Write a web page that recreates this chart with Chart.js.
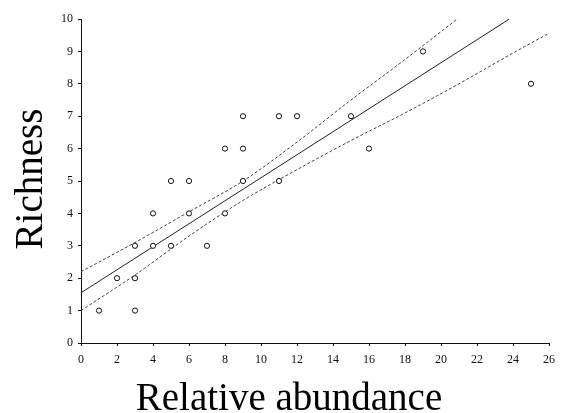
<!DOCTYPE html>
<html>
<head>
<meta charset="utf-8">
<script src="https://cdn.jsdelivr.net/npm/chart.js@4/dist/chart.umd.min.js"></script>
<style>
  html, body { margin: 0; padding: 0; background: #fff; }
  #wrap { width: 562px; height: 413px; }
</style>
</head>
<body>
<div id="wrap"><canvas id="richChart" width="562" height="413"></canvas></div>
<script>
// observed samples: relative abundance vs richness
const abundance = [1, 2, 3, 3, 3, 4, 4, 5, 5, 6, 6, 7, 8, 8, 9, 9, 9, 11, 11, 12, 15, 16, 19, 25];
const richness  = [1, 2, 1, 2, 3, 3, 4, 3, 5, 4, 5, 3, 4, 6, 5, 6, 7, 5, 7, 7, 7, 6, 9, 8];

// fitted line
const fitX = [0, 23.8];
const fitY = [1.55, 10];

// confidence bands (dashed)
const upperX = [0, 3, 6, 9, 12, 15, 18, 20.9];
const upperY = [2.2, 3.1, 4.05, 5.0, 6.2, 7.5, 8.75, 10.0];
const lowerX = [0, 3, 6, 9, 12, 15, 18, 21, 24, 26];
const lowerY = [1.0, 2.1, 3.3, 4.4, 5.35, 6.25, 7.1, 8.0, 8.95, 9.56];

const xTicks = [0, 2, 4, 6, 8, 10, 12, 14, 16, 18, 20, 22, 24, 26];
const yTicks = [0, 1, 2, 3, 4, 5, 6, 7, 8, 9, 10];

const xTitle = "Relative abundance";
const yTitle = "Richness";

const toXY = (xs, ys) => xs.map((x, i) => ({ x: x, y: ys[i] }));

const serif = "'Liberation Serif', 'Times New Roman', serif";
const tickFont = { family: serif, size: 12 };

// axis titles sit off-centre in the original, so place them by hand
const axisTitles = {
    id: 'axisTitles',
    afterDraw(chart) {
        const c = chart.ctx;
        c.save();
        c.fillStyle = "#000";
        c.font = "39px " + serif;
        c.textBaseline = "alphabetic";
        c.textAlign = "center";
        c.fillText(xTitle, 289, 410);
        c.translate(42, 179);
        c.rotate(-Math.PI / 2);
        c.fillText(yTitle, 0, 0);
        c.restore();
    }
};

const ctx = document.getElementById("richChart").getContext("2d");
new Chart(ctx, {
    type: 'scatter',
    data: {
        datasets: [
            {
                label: "Samples",
                data: toXY(abundance, richness),
                pointStyle: 'circle',
                pointRadius: 2.6,
                pointBorderWidth: 1,
                pointBorderColor: "#111",
                pointBackgroundColor: "#fff",
                showLine: false
            },
            {
                label: "Fit",
                data: toXY(fitX, fitY),
                showLine: true,
                borderColor: "#222",
                borderWidth: 1,
                pointRadius: 0
            },
            {
                label: "Upper",
                data: toXY(upperX, upperY),
                showLine: true,
                borderColor: "#444",
                borderWidth: 1,
                borderDash: [3, 2],
                cubicInterpolationMode: 'monotone',
                pointRadius: 0
            },
            {
                label: "Lower",
                data: toXY(lowerX, lowerY),
                showLine: true,
                borderColor: "#444",
                borderWidth: 1,
                borderDash: [3, 2],
                cubicInterpolationMode: 'monotone',
                pointRadius: 0
            }
        ]
    },
    options: {
        responsive: false,
        animation: false,
        layout: { padding: { top: 19, right: 7, left: 0, bottom: 0 } },
        plugins: {
            legend: { display: false },
            tooltip: { enabled: false }
        },
        scales: {
            x: {
                type: 'linear',
                min: 0,
                max: 26,
                afterBuildTicks: (axis) => { axis.ticks = xTicks.map(v => ({ value: v })); },
                afterFit: (axis) => { axis.height = 70; },
                ticks: { font: tickFont, color: "#111", padding: 7, maxRotation: 0 },
                grid: { display: true, drawOnChartArea: false, drawTicks: true, tickLength: 3, color: "#111" },
                border: { display: true, color: "#111", width: 1 }
            },
            y: {
                type: 'linear',
                min: 0,
                max: 10,
                afterBuildTicks: (axis) => { axis.ticks = yTicks.map(v => ({ value: v })); },
                afterFit: (axis) => { axis.width = 81; },
                ticks: { font: tickFont, color: "#111", padding: 5 },
                grid: { display: true, drawOnChartArea: false, drawTicks: true, tickLength: 3, color: "#111" },
                border: { display: true, color: "#111", width: 1 }
            }
        }
    },
    plugins: [axisTitles]
});
</script>
</body>
</html>
